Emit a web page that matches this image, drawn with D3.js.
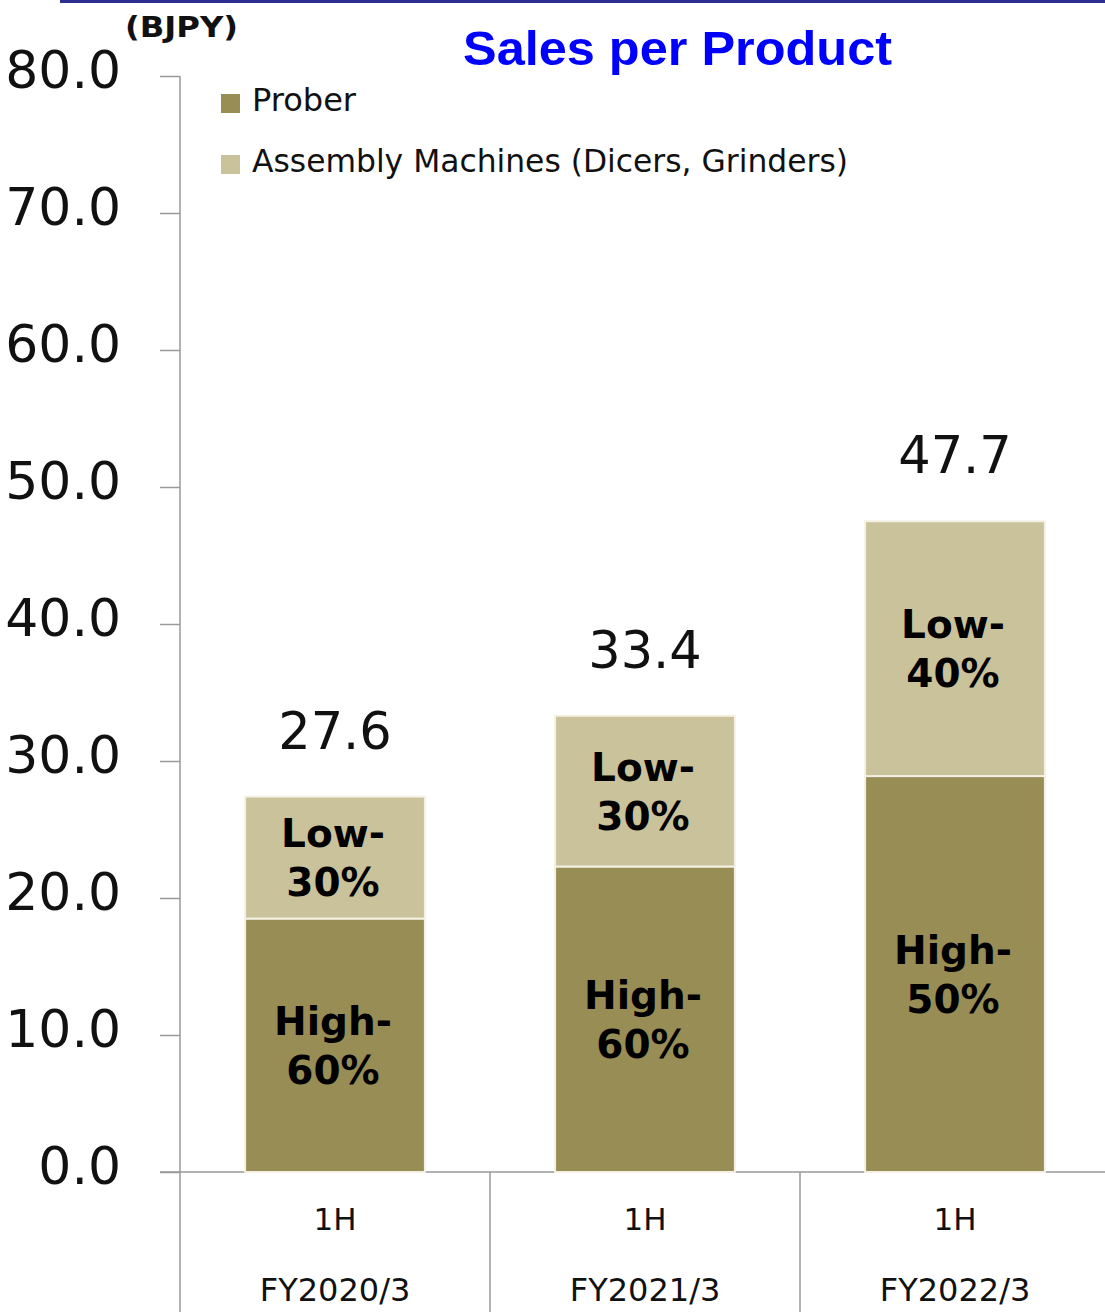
<!DOCTYPE html>
<html><head><meta charset="utf-8">
<script src="https://cdn.jsdelivr.net/npm/d3@7"></script>
<style>html,body{margin:0;padding:0;background:#fff;}svg{display:block;}</style>
</head><body>
<script>
const periods = ["1H", "1H", "1H"];
const fiscalYears = ["FY2020/3", "FY2021/3", "FY2022/3"];
const prober = [18.5, 22.3, 28.9];
const assembly = [8.9, 11.0, 18.6];
const totals = ["27.6", "33.4", "47.7"];
const proberLabels = [["High-", "60%"], ["High-", "60%"], ["High-", "50%"]];
const assemblyLabels = [["Low-", "30%"], ["Low-", "30%"], ["Low-", "40%"]];
const yTicks = [0, 10, 20, 30, 40, 50, 60, 70, 80];
const seriesNames = ["Prober", "Assembly Machines (Dicers, Grinders)"];
const colors = ["#978d55", "#c9c29a"];

const W = 1105, H = 1312;
const svg = d3.select("body").append("svg").attr("width", W).attr("height", H);

const y = d3.scaleLinear().domain([0, 80]).range([1172, 76]);
const x = d3.scaleBand().domain(fiscalYears).range([180, 1110]).padding(0);
const barW = x.bandwidth() * 0.58;

// top rule
svg.append("rect").attr("x", 60).attr("y", 0).attr("width", W - 60).attr("height", 3).attr("fill", "#2b2f8f");

// y axis
const yAxis = d3.axisLeft(y).tickValues(yTicks).tickSize(20).tickFormat(d => d3.format(".1f")(d));
const ga = svg.append("g").attr("transform", "translate(180,0)").call(yAxis);
ga.select(".domain").remove();
ga.selectAll(".tick line").attr("stroke", "#999").attr("stroke-width", 1.5);
ga.selectAll(".tick text").attr("x", -59).attr("dy", "0.22em")
  .attr("font-family", "DejaVu Sans").attr("font-size", 52).attr("fill", "#111");
svg.append("line").attr("x1", 180).attr("x2", 180).attr("y1", y(80)).attr("y2", H)
  .attr("stroke", "#999").attr("stroke-width", 1.5);

// baseline and category separators
svg.append("line").attr("x1", 160).attr("x2", W).attr("y1", y(0)).attr("y2", y(0))
  .attr("stroke", "#999").attr("stroke-width", 1.5);
fiscalYears.slice(1).forEach(c => {
  svg.append("line").attr("x1", x(c)).attr("x2", x(c)).attr("y1", y(0)).attr("y2", H)
    .attr("stroke", "#999").attr("stroke-width", 1.5);
});

// bars
const data = fiscalYears.map((c, i) => ({c, p: prober[i], a: assembly[i], t: totals[i], i}));
const g = svg.append("g");
data.forEach(d => {
  const cx = x(d.c) + x.bandwidth() / 2;
  const x0 = cx - barW / 2;
  g.append("rect").attr("x", x0).attr("width", barW)
    .attr("y", y(d.p)).attr("height", y(0) - y(d.p))
    .attr("fill", colors[0]).attr("stroke", "#f4f1e4").attr("stroke-width", 2);
  g.append("rect").attr("x", x0).attr("width", barW)
    .attr("y", y(d.p + d.a)).attr("height", y(d.p) - y(d.p + d.a))
    .attr("fill", colors[1]).attr("stroke", "#f4f1e4").attr("stroke-width", 2);

  const segLabel = (lines, top, bottom) => {
    const mid = (y(top) + y(bottom)) / 2;
    lines.forEach((s, k) => {
      g.append("text").attr("x", cx - 2).attr("y", mid + (k - 0.5) * 49)
        .attr("dy", "0.36em").attr("text-anchor", "middle")
        .attr("font-family", "DejaVu Sans").attr("font-weight", "bold")
        .attr("font-size", 39).attr("fill", "#000").text(s);
    });
  };
  segLabel(proberLabels[d.i], d.p, 0);
  segLabel(assemblyLabels[d.i], d.p + d.a, d.p);

  g.append("text").attr("x", cx).attr("y", y(d.p + d.a) - 48)
    .attr("text-anchor", "middle").attr("font-family", "DejaVu Sans")
    .attr("font-size", 51).attr("fill", "#111").text(d.t);

  g.append("text").attr("x", cx).attr("y", 1230).attr("text-anchor", "middle")
    .attr("font-family", "DejaVu Sans").attr("font-size", 31).attr("fill", "#111").text(periods[d.i]);
  g.append("text").attr("x", cx).attr("y", 1301).attr("text-anchor", "middle")
    .attr("font-family", "DejaVu Sans").attr("font-size", 32).attr("fill", "#111").text(d.c);
});

// legend
const leg = [{y: 94, w: 104}, {y: 155, w: 596}];
seriesNames.forEach((n, i) => {
  svg.append("rect").attr("x", 221).attr("y", leg[i].y).attr("width", 19).attr("height", 19).attr("fill", colors[i]);
  svg.append("text").attr("x", 252).attr("y", leg[i].y + 17)
    .attr("font-family", "DejaVu Sans").attr("font-size", 32).attr("fill", "#111")
    .attr("textLength", leg[i].w).attr("lengthAdjust", "spacingAndGlyphs").text(n);
});

// unit and title
svg.append("text").attr("x", 125).attr("y", 37).attr("font-family", "DejaVu Sans").attr("font-weight", "bold")
  .attr("font-size", 28).attr("fill", "#111").attr("textLength", 113).attr("lengthAdjust", "spacingAndGlyphs").text("(BJPY)");
svg.append("text").attr("x", 463).attr("y", 65).attr("font-family", "Liberation Sans").attr("font-weight", "bold")
  .attr("font-size", 49).attr("fill", "#0000ff").attr("textLength", 429).attr("lengthAdjust", "spacingAndGlyphs").text("Sales per Product");
</script>
</body></html>
